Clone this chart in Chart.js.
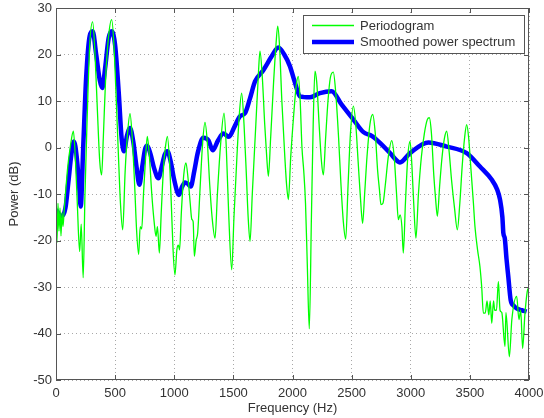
<!DOCTYPE html>
<html>
<head>
    <title>Periodogram and Smoothed Power Spectrum</title>
    <script src="https://cdn.jsdelivr.net/npm/chart.js"></script>
    <style>
        body { margin: 0; background: #fff; }
    </style>
</head>
<body>
    <canvas id="myChart" width="544" height="418"></canvas>

    <script>
        // Periodogram (green)
        var periodogramFreq = [0, 8, 17, 25, 34, 42, 51, 59, 68, 80, 100, 120, 147, 165, 180, 200, 213, 230, 245, 262,
            285, 310, 330, 350, 370, 386, 400, 420, 445, 471, 490, 510, 530, 545, 564, 585, 605, 626, 645, 665,
            682, 699, 712, 725, 740, 758, 772, 790, 810, 830, 846, 858, 874, 890, 910, 925, 942, 960, 975, 990,
            1006, 1022, 1035, 1045, 1060, 1080, 1099, 1118, 1135, 1148, 1160, 1170, 1185, 1198, 1220, 1240, 1260, 1280, 1300, 1320,
            1345, 1365, 1390, 1421, 1440, 1460, 1486, 1505, 1530, 1550, 1570, 1590, 1610, 1625, 1641, 1660, 1690, 1710, 1725, 1745,
            1765, 1782, 1796, 1815, 1840, 1860, 1875, 1890, 1910, 1935, 1950, 1965, 1985, 2010, 2030, 2049, 2065, 2080, 2095, 2110,
            2125, 2142, 2160, 2175, 2190, 2205, 2225, 2245, 2261, 2280, 2300, 2320, 2345, 2365, 2390, 2410, 2430, 2450, 2470, 2490,
            2515, 2535, 2555, 2575, 2593, 2610, 2630, 2655, 2678, 2700, 2720, 2735, 2748, 2765, 2785, 2810, 2839, 2860, 2880, 2895,
            2910, 2925, 2937, 2955, 2975, 2994, 3010, 3025, 3044, 3065, 3090, 3115, 3140, 3157, 3175, 3195, 3210, 3225, 3245, 3265,
            3285, 3304, 3325, 3345, 3370, 3394, 3415, 3435, 3455, 3473, 3490, 3510, 3530, 3543, 3565, 3585, 3600, 3614, 3630, 3645,
            3660, 3672, 3685, 3700, 3710, 3725, 3741, 3755, 3770, 3797, 3805, 3834, 3855, 3896, 3915, 3930, 3946, 3965, 3985, 4000];
        var periodogramPower = [-13, -20.5, -12, -18, -13, -19, -14, -17, -14, -10, -4, 0, 3.5, -3, -12, -22.4, -16.5, -28, -10, 5,
            22, 27, 20, 8, -3, -5.9, 2, 15, 24, 27.5, 22, 10, -3, -12, -17.7, -5, 3, 7.3, 2, -8,
            -18, -23, -17, -17.5, -10, -2, 2.4, -2, -10, -16, -19.1, -17, -22.7, -14, -4, 0, 2.4, -3, -12, -22,
            -27.4, -22, -21, -22, -14, -6, -3.3, -7, -12, -15.4, -16, -23.4, -20, -18.4, -8, 1, 5.4, 1, -8, -15,
            -19.5, -10, 0, 7.4, 0, -14, -26.3, -15, -2, 7, 11.7, 5, -6, -15, -20.2, -10, 5, 15, 20.7, 15,
            5, -2, -6.2, 2, 14, 22, 26.1, 22, 10, -2, -8, -11.2, -2, 7, 13, 15.3, 10, 0, -5, -12,
            -25, -39, -15, 5, 16.4, 14, 5, -3, -5.9, 2, 10, 15, 16.2, 12, 2, -8, -16, -19.7, -8, 3,
            8.9, 5, -3, -11, -16.3, -10, -2, 5, 7.1, 3, -5, -9, -12.3, -12, -8, -2, 1.5, -2, -10, -15.5,
            -14.5, -17, -22.7, -12, -2, 1.3, -4, -12, -19.5, -10, -2, 3, 6, 6.4, 3, -6, -11, -14.8, -8, -2,
            2, 3.5, -1, -7, -13, -17.7, -12, -4, 2, 4.9, 2, -5, -12, -17, -22, -25.6, -30, -35.6, -35.6, -33,
            -36, -33, -37.8, -33, -35, -35, -28.8, -35, -35.5, -42.8, -35.5, -45, -37, -32, -37, -35, -43.2, -36, -31, -30];

        // Smoothed power spectrum (blue)
        var smoothedFreq = [0, 48, 80, 104, 130, 152, 175, 195, 209, 230, 255, 285, 310, 340, 370, 392, 415, 445, 471, 500,
            530, 555, 575, 600, 626, 655, 680, 705, 730, 755, 772, 800, 830, 866, 895, 920, 942, 970, 1000, 1040,
            1065, 1091, 1115, 1139, 1170, 1200, 1246, 1290, 1325, 1370, 1415, 1463, 1510, 1556, 1599, 1640, 1683, 1753, 1824, 1880,
            1930, 1978, 2020, 2063, 2148, 2232, 2331, 2416, 2515, 2600, 2670, 2740, 2825, 2909, 2994, 3149, 3304, 3473, 3585, 3684,
            3730, 3755, 3775, 3783, 3795, 3810, 3825, 3845, 3870, 3896, 3940, 3980];
        var smoothedPower = [-13.4, -14.8, -13, -7.6, -1.5, 1.3, -2, -8, -12.7, 0, 15, 24, 25, 20, 14.5, 12.8, 17, 23.5, 25, 22,
            12, 2, -0.8, 2.5, 4.2, 1, -4, -8, -4, -0.2, 0.4, -1.5, -4.5, -6.6, -4, -1.5, -0.8, -3, -7, -10.2,
            -8.5, -7.5, -7.8, -8.4, -5, -1, 2.1, 1.5, -0.6, 1.5, 3, 2.3, 4.5, 6.7, 7.4, 10.5, 14.2, 16.6, 19.6, 21.5,
            20, 17.5, 14, 11, 10.8, 11.7, 12.1, 9.2, 6, 3.3, 2.5, 1, -1.2, -3.2, -1.2, 1.1, 0.2, -1.2, -4.1, -6.9,
            -9, -11.2, -15, -18.4, -19.5, -24, -27.8, -32.8, -34, -34.6, -35, -35.3];

        var xMin = 0, xMax = 4000, xStep = 500;
        var yMin = -50, yMax = 30, yStep = 10;

        function toPoints(xs, ys) {
            return xs.map(function(x, i) { return { x: x, y: ys[i] }; });
        }

        var axisColor = '#555555';
        var textColor = '#333333';
        var fontFamily = '"Liberation Sans", Arial, Helvetica, sans-serif';

        // box round the plot, inward ticks and the legend
        var matlabAxes = {
            id: 'matlabAxes',
            afterDraw: function(chart) {
                var ctx = chart.ctx, a = chart.chartArea;
                var xs = chart.scales.x, ys = chart.scales.y;
                ctx.save();
                ctx.strokeStyle = axisColor;
                ctx.lineWidth = 1;
                ctx.strokeRect(a.left + 0.5, a.top + 0.5, a.right - a.left - 1, a.bottom - a.top - 1);
                ctx.beginPath();
                xs.ticks.forEach(function(t) {
                    var px = Math.round(xs.getPixelForValue(t.value)) + 0.5;
                    ctx.moveTo(px, a.bottom); ctx.lineTo(px, a.bottom - 5);
                    ctx.moveTo(px, a.top); ctx.lineTo(px, a.top + 5);
                });
                ys.ticks.forEach(function(t) {
                    var py = Math.round(ys.getPixelForValue(t.value)) + 0.5;
                    ctx.moveTo(a.left, py); ctx.lineTo(a.left + 5, py);
                    ctx.moveTo(a.right, py); ctx.lineTo(a.right - 5, py);
                });
                ctx.stroke();

                // legend
                var bx = 303, by = 15, bw = 221, bh = 38;
                ctx.fillStyle = '#ffffff';
                ctx.fillRect(bx, by, bw, bh);
                ctx.strokeStyle = axisColor;
                ctx.strokeRect(bx + 0.5, by + 0.5, bw, bh);
                ctx.font = '13px ' + fontFamily;
                ctx.textBaseline = 'middle';
                chart.data.datasets.forEach(function(ds, i) {
                    var ly = by + 10.5 + i * 16.5;
                    ctx.strokeStyle = ds.borderColor;
                    ctx.lineWidth = ds.borderWidth;
                    ctx.beginPath();
                    ctx.moveTo(bx + 9, ly); ctx.lineTo(bx + 51, ly);
                    ctx.stroke();
                    ctx.fillStyle = textColor;
                    ctx.fillText(ds.label, bx + 57, ly + 0.5);
                });
                ctx.restore();
            }
        };

        var ctx = document.getElementById('myChart').getContext('2d');
        var chart = new Chart(ctx, {
            type: 'line',
            data: {
                datasets: [{
                    label: 'Periodogram',
                    data: toPoints(periodogramFreq, periodogramPower),
                    borderColor: '#00ff00',
                    borderWidth: 1.3,
                    pointRadius: 0,
                    cubicInterpolationMode: 'monotone',
                    fill: false
                }, {
                    label: 'Smoothed power spectrum',
                    data: toPoints(smoothedFreq, smoothedPower),
                    borderColor: '#0000ff',
                    borderWidth: 4.5,
                    pointRadius: 0,
                    cubicInterpolationMode: 'monotone',
                    fill: false
                }]
            },
            options: {
                responsive: false,
                animation: false,
                events: [],
                layout: { padding: { top: 8, right: 15, left: 0, bottom: 0 } },
                plugins: {
                    legend: { display: false },
                    tooltip: { enabled: false }
                },
                scales: {
                    x: {
                        type: 'linear',
                        min: xMin,
                        max: xMax,
                        afterFit: function(s) { s.height = 38; s.paddingLeft = 0; s.paddingRight = 0; },
                        ticks: {
                            stepSize: xStep,
                            padding: 6,
                            maxRotation: 0,
                            color: textColor,
                            font: { family: fontFamily, size: 13 },
                            callback: function(v) { return String(v); }
                        },
                        grid: { color: '#a8a8a8', lineWidth: 1, drawTicks: false },
                        border: { display: false, dash: [1, 3] },
                        title: {
                            display: true,
                            text: 'Frequency (Hz)',
                            color: textColor,
                            font: { family: fontFamily, size: 13 },
                            padding: { top: 0, bottom: 2 }
                        }
                    },
                    y: {
                        min: yMin,
                        max: yMax,
                        afterFit: function(s) { s.width = 56; s.paddingTop = 0; s.paddingBottom = 0; },
                        ticks: {
                            stepSize: yStep,
                            padding: 4,
                            color: textColor,
                            font: { family: fontFamily, size: 13 },
                            callback: function(v) { return String(v); }
                        },
                        grid: { color: '#a8a8a8', lineWidth: 1, drawTicks: false },
                        border: { display: false, dash: [1, 3] },
                        title: {
                            display: true,
                            text: 'Power (dB)',
                            color: textColor,
                            font: { family: fontFamily, size: 13 },
                            padding: { top: 7, bottom: 0 }
                        }
                    }
                }
            },
            plugins: [matlabAxes]
        });
    </script>
</body>
</html>
